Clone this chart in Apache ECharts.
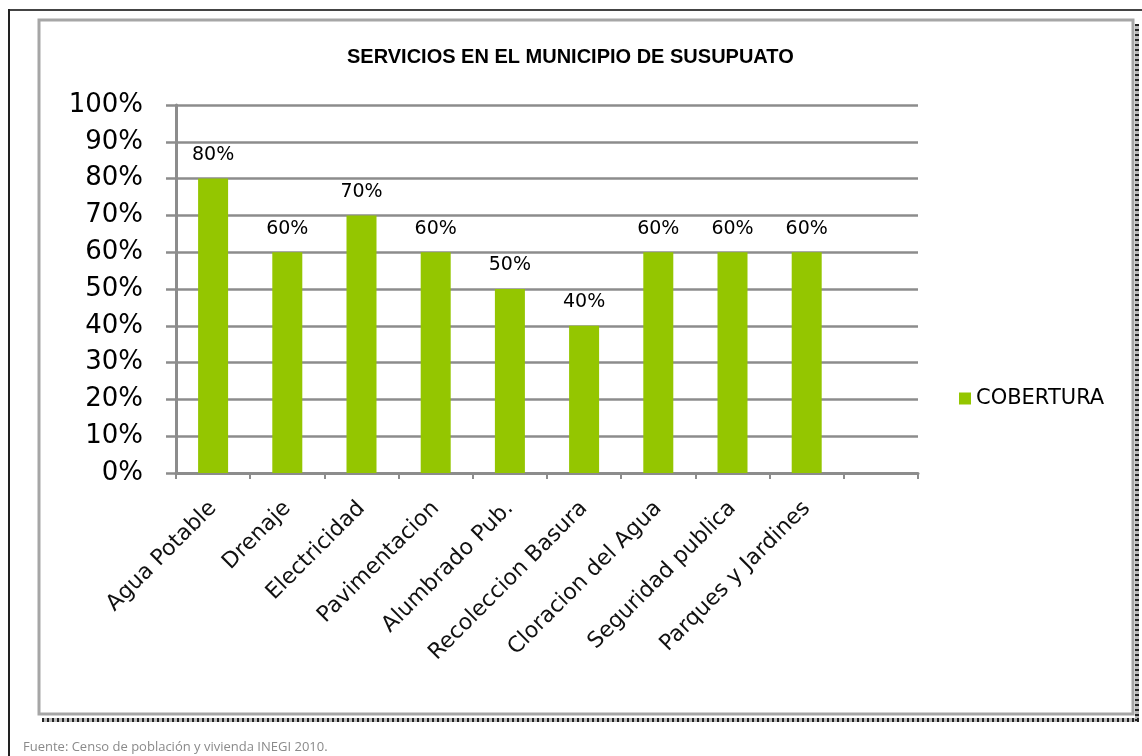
<!DOCTYPE html>
<html>
<head>
<meta charset="utf-8">
<script src="https://cdn.jsdelivr.net/npm/echarts@6/dist/echarts.min.js"></script>
<style>
html,body{margin:0;padding:0;background:#fff;}
#c{width:1142px;height:756px;}
</style>
</head>
<body>
<div id="c"></div>
<script>
const categories = ['Agua Potable','Drenaje','Electricidad','Pavimentacion','Alumbrado Pub.','Recoleccion Basura','Cloracion del Agua','Seguridad publica','Parques y Jardines',''];
const cobertura = [80,60,70,60,50,40,60,60,60,'-'];
const seriesName = 'COBERTURA';
const titleText = 'SERVICIOS EN EL MUNICIPIO DE SUSUPUATO';
const footerText = 'Fuente: Censo de población y vivienda INEGI 2010.';

const chart = echarts.init(document.getElementById('c'), null, {renderer:'canvas'});
const FONT = '"DejaVu Sans", sans-serif';
const GRID = '#8c8c8c';
chart.setOption({
  animation:false,
  backgroundColor:'#fff',
  title:{
    text:titleText, left:342, top:42,
    textStyle:{fontFamily:'"Liberation Sans", Arial, sans-serif', fontWeight:'bold', fontSize:20, color:'#000'}
  },
  legend:{
    data:[seriesName], left:954, top:383, icon:'rect', itemWidth:12, itemHeight:12, itemGap:10,
    textStyle:{fontFamily:FONT, fontSize:21, color:'#000', padding:[0,0,0,0]}
  },
  grid:{left:176, right:224, top:105, bottom:283},
  xAxis:{
    type:'category', data:categories, boundaryGap:true,
    axisLine:{lineStyle:{color:GRID, width:3}},
    axisTick:{show:true, length:6, lineStyle:{color:GRID, width:2}},
    axisLabel:{rotate:45, margin:32, interval:0, fontFamily:FONT, fontSize:22, color:'#111'}
  },
  yAxis:{
    type:'value', min:0, max:100, interval:10,
    axisLine:{show:true, lineStyle:{color:GRID, width:3}},
    axisTick:{show:true, length:10, lineStyle:{color:GRID, width:2.5}},
    axisLabel:{formatter:'{value}%', margin:33, fontFamily:FONT, fontSize:26, color:'#000'},
    splitLine:{lineStyle:{color:GRID, width:2.5}}
  },
  series:[{
    name:seriesName, type:'bar', data:cobertura, barWidth:30,
    itemStyle:{color:'#94C600'},
    label:{show:true, position:'top', distance:14, formatter:'{c}%', fontFamily:FONT, fontSize:19, color:'#000'}
  }],
  graphic:[
    {type:'line', shape:{x1:8, y1:10, x2:1142, y2:10}, style:{stroke:'#444', lineWidth:2}, z:-10},
    {type:'line', shape:{x1:9, y1:9, x2:9, y2:756}, style:{stroke:'#222', lineWidth:2}, z:-10},
    {type:'rect', shape:{x:39, y:20, width:1094, height:694}, style:{fill:'#fff', stroke:'#a6a6a6', lineWidth:3}, z:-10},
    {type:'line', shape:{x1:1137, y1:24, x2:1137, y2:721}, style:{stroke:'#bbb', lineWidth:4}, z:-11},
    {type:'line', shape:{x1:1137, y1:24, x2:1137, y2:721}, style:{stroke:'#222', lineWidth:4, lineDash:[2,3]}, z:-10},
    {type:'line', shape:{x1:42, y1:720, x2:1139, y2:720}, style:{stroke:'#bbb', lineWidth:4}, z:-11},
    {type:'line', shape:{x1:42, y1:720, x2:1139, y2:720}, style:{stroke:'#222', lineWidth:4, lineDash:[2,3]}, z:-10},
    {type:'text', left:23, top:741, style:{text:footerText, fontFamily:'"Open Sans", sans-serif', fontSize:13, fill:'#8a8a8a'}}
  ]
});
</script>
</body>
</html>
